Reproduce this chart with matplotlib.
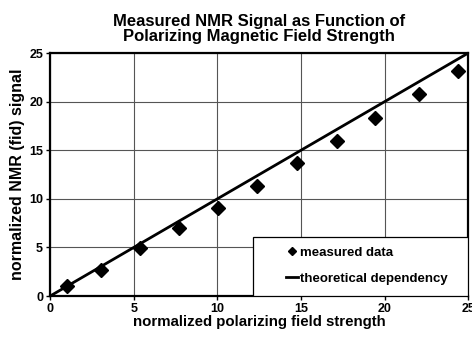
import numpy as np
import matplotlib.pyplot as plt
from matplotlib.patches import Rectangle

plt.rcParams['font.family'] = ['Liberation Sans', 'DejaVu Sans']
plt.rcParams['font.weight'] = 'bold'

# values
field = [1.0, 3.05, 5.4, 7.7, 10.05, 12.35, 14.75, 17.15, 19.4, 22.05, 24.4]
signal = [1.03, 2.7, 4.9, 6.98, 9.02, 11.35, 13.7, 15.98, 18.28, 20.75, 23.18]
theory_x = [0, 25]
theory_y = [0, 25]

fig = plt.figure(figsize=(4.72, 3.38), dpi=100)
ax = fig.add_axes([0.106, 0.124, 0.886, 0.719])

ax.plot(field, signal, 'D', color='black', markersize=7, label='measured data', zorder=3)
ax.plot(theory_x, theory_y, '-', color='black', linewidth=2, label='theoretical dependency', zorder=3)

ax.set_xlim(0, 25)
ax.set_ylim(0, 25)
ax.set_xticks(np.arange(0, 26, 5))
ax.set_yticks(np.arange(0, 26, 5))
ax.grid(True, color='#555555', linewidth=0.8)
ax.tick_params(labelsize=9, length=3, width=1, pad=2)
for s in ax.spines.values():
    s.set_linewidth(1.6)

ax.set_xlabel('normalized polarizing field strength', fontsize=10.8, fontweight='bold', labelpad=0)
ax.set_ylabel('normalized NMR (fid) signal', fontsize=11.5, fontweight='bold', labelpad=3)
ax.set_title('Measured NMR Signal as Function of\nPolarizing Magnetic Field Strength',
             fontsize=12, fontweight='bold', linespacing=1.0, pad=9)

# legend box
ax.add_patch(Rectangle((0.486, 0), 0.514, 0.243, transform=ax.transAxes,
                       facecolor='white', edgecolor='black', linewidth=0.9, zorder=4))
leg = ax.legend(loc='center left', bbox_to_anchor=(0.565, 0.125), fontsize=9.5, frameon=False,
                borderaxespad=0, borderpad=0, markerscale=0.55, handlelength=0.9,
                handletextpad=0.1, labelspacing=1.0)
leg.set_zorder(5)

fig.savefig('out.png', dpi=100)
